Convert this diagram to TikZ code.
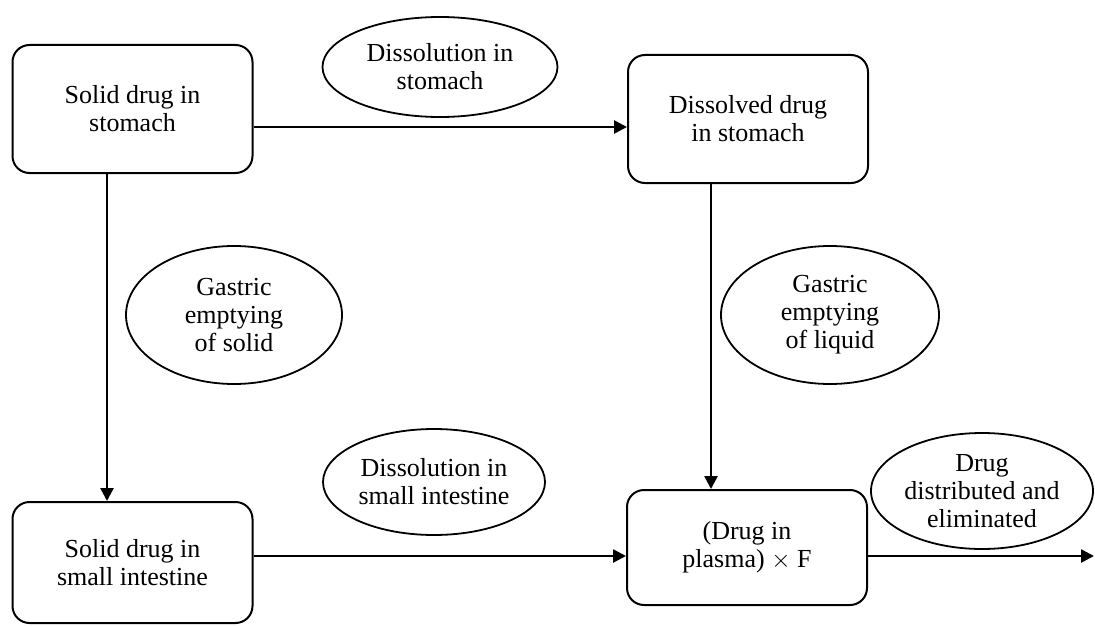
\documentclass[tikz,border=0pt]{standalone}
\usepackage{fontspec}
\setmainfont{Liberation Serif}
\usetikzlibrary{arrows.meta,positioning,shapes.geometric}

\tikzset{
  stage/.style={draw,line width=2pt,rounded corners=17pt,align=center,
                minimum width=240pt,inner sep=0pt},
  route/.style={draw,ellipse,line width=1.8pt,align=center,inner sep=0pt},
  flow/.style={line width=2.6pt,-{Triangle[length=13pt,width=13pt]}}
}

\begin{document}
\begin{tikzpicture}[x=1pt,y=-1pt,font=\fontsize{26}{28}\selectfont]
  \useasboundingbox (0,0) rectangle (1095,626);

  % compartments
  \node[stage,minimum height=128pt] (solidSt)   at (132.5,109)   {Solid drug in\\stomach};
  \node[stage,minimum height=128pt] (dissolved) at (748,119)     {Dissolved drug\\in stomach};
  \node[stage,minimum height=121pt] (solidSI)   at (132.5,562.5) {Solid drug in\\small intestine};
  \node[stage,minimum height=115pt] (plasma)    at (747,547.5)   {(Drug in\\plasma) $\times$ F};
  \coordinate (outlet) at (1094,556);

  % processes
  \node[route,minimum width=235pt,minimum height=100pt] (dissSt) at (440,67)  {Dissolution in\\stomach};
  \node[route,minimum width=216pt,minimum height=138pt] (gasSol) at (234,315) {Gastric\\emptying\\of solid};
  \node[route,minimum width=218pt,minimum height=138pt] (gasLiq) at (830,315) {Gastric\\emptying\\of liquid};
  \node[route,minimum width=222pt,minimum height=106pt] (dissSI) at (434,482) {Dissolution in\\small intestine};
  \node[route,minimum width=222pt,minimum height=116pt] (distEl) at (982,491) {Drug\\distributed and\\eliminated};

  % transfers
  \draw[flow] (solidSt.east |- 0,127) -- (dissolved.west |- 0,127);
  \draw[flow] (solidSt.south -| 107,0) -- (solidSI.north -| 107,0);
  \draw[flow] (dissolved.south -| 711,0) -- (plasma.north -| 711,0);
  \draw[flow] (solidSI.east |- 0,556) -- (plasma.west |- 0,556);
  \draw[flow] (plasma.east |- 0,556) -- (outlet);
\end{tikzpicture}
\end{document}
